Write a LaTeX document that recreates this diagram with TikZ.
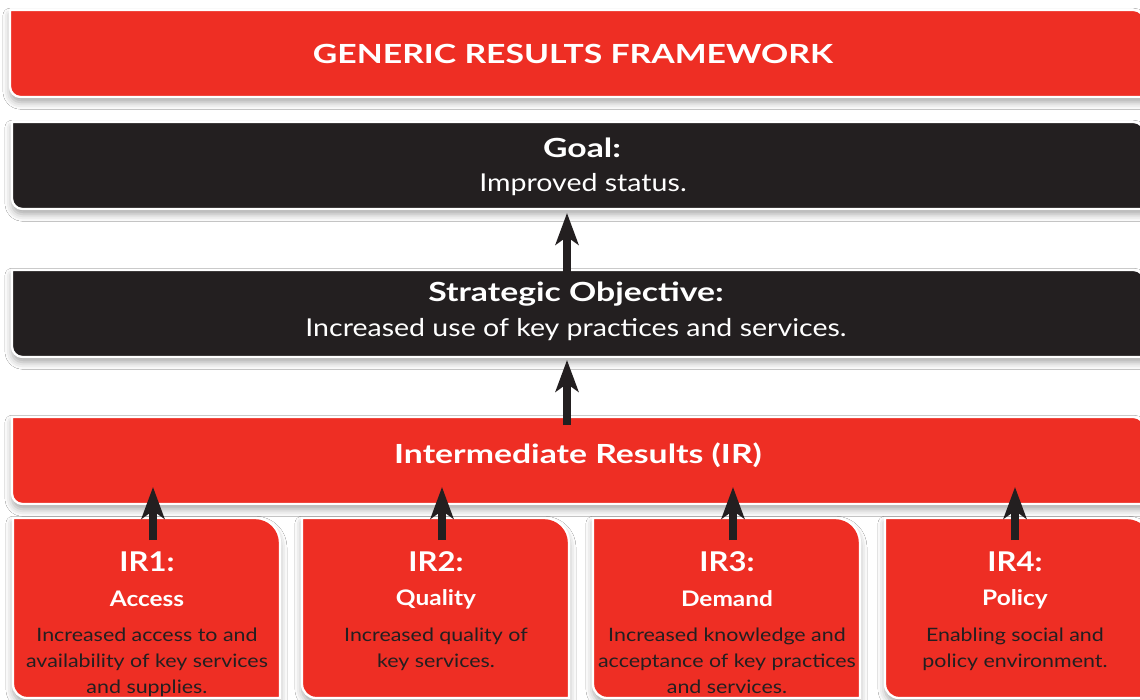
\documentclass[tikz,border=0pt]{standalone}
\usepackage{fontspec}
\setmainfont{Lato}[FakeStretch=1.16, BoldFeatures={FakeStretch=1.28}]
\newfontfamily\labelfont{Lato}[BoldFeatures={FakeStretch=1.14}]
\usetikzlibrary{arrows.meta,shadows.blur}

\definecolor{frred}{HTML}{EE2E24}
\definecolor{frblack}{HTML}{231F20}

\tikzset{
  panel/.style={draw=white, line width=1.3pt,
    blur shadow={shadow xshift=0pt, shadow yshift=-3pt, shadow blur radius=4pt, shadow opacity=35}},
  uparrow/.style={line width=4.2pt, frblack, -{Stealth[length=18pt, width=13pt, inset=4.5pt]}},
  heading/.style={text=white, font=\bfseries\fontsize{15}{18}\selectfont},
  subhead/.style={text=white, font=\fontsize{14}{17}\selectfont},
  irlabel/.style={text=white, align=center, font=\labelfont\bfseries\fontsize{15.5}{19}\selectfont},
  irname/.style={text=white, font=\labelfont\bfseries\fontsize{12.2}{14}\selectfont},
  irtext/.style={text=frblack, align=center, font=\fontsize{10.5}{14.7}\selectfont}
}

\begin{document}
\begin{tikzpicture}[x=0.02cm, y=-0.02cm]
        \useasboundingbox[fill=white] (0,0) rectangle (1140,700);

        % Title banner
        \path[panel, fill=frred] (10,10) [rounded corners=6pt] -- (1144,10) [sharp corners] -- (1144,97) [rounded corners=6pt] -- (10,97) [sharp corners] -- cycle;
        \node[heading] (title) at (573,54) {GENERIC RESULTS FRAMEWORK};

        % Goal and strategic objective
        \path[panel, fill=frblack] (12,122) [rounded corners=6pt] -- (1144,122) [sharp corners] -- (1144,209) [rounded corners=6pt] -- (12,209) [sharp corners] -- cycle;
        \node[heading] (goal) at (582,148) {Goal:};
        \node[subhead] (goaltext) at (583,185) {Improved status.};

        \path[panel, fill=frblack] (12,270) [rounded corners=6pt] -- (1144,270) [sharp corners] -- (1144,357) [rounded corners=6pt] -- (12,357) [sharp corners] -- cycle;
        \node[heading] (so) at (576,294) {Strategic Objective:};
        \node[subhead] (sotext) at (576,330) {Increased use of key practices and services.};

        % Intermediate results banner
        \path[panel, fill=frred] (12,417) [rounded corners=6pt] -- (1144,417) [sharp corners] -- (1144,504) [rounded corners=6pt] -- (12,504) [sharp corners] -- cycle;
        \node[heading] (ir) at (578,455) {Intermediate Results (IR)};

        % IR boxes
        \path[panel, fill=frred] (13,518) [rounded corners=14pt] -- (280,518) [sharp corners] -- (280,698) [rounded corners=8pt] -- (13,698) [sharp corners] -- cycle;
        \path[panel, fill=frred] (302,518) [rounded corners=14pt] -- (569,518) [sharp corners] -- (569,698) [rounded corners=8pt] -- (302,698) [sharp corners] -- cycle;
        \path[panel, fill=frred] (593,518) [rounded corners=14pt] -- (860,518) [sharp corners] -- (860,698) [rounded corners=8pt] -- (593,698) [sharp corners] -- cycle;
        \path[panel, fill=frred] (885,518) [rounded corners=14pt] -- (1152,518) [sharp corners] -- (1152,698) [rounded corners=8pt] -- (885,698) [sharp corners] -- cycle;

        \node[irlabel] (ir1) at (147,562) {IR1:};
        \node[irname] (ir1name) at (147,599) {Access};
        \node[irtext] (ir1text) at (147,662) {Increased access to and\\availability of key services\\and supplies.};

        \node[irlabel] (ir2) at (436,562) {IR2:};
        \node[irname] (ir2name) at (436,599) {Quality};
        \node[irtext] (ir2text) at (436,649) {Increased quality of\\key services.};

        \node[irlabel] (ir3) at (727,562) {IR3:};
        \node[irname] (ir3name) at (727,599) {Demand};
        \node[irtext] (ir3text) at (727,661) {Increased knowledge and\\acceptance of key practices\\and services.};

        \node[irlabel] (ir4) at (1015,562) {IR4:};
        \node[irname] (ir4name) at (1015,599) {Policy};
        \node[irtext] (ir4text) at (1015,649) {Enabling social and\\policy environment.};

        % Arrow ends
        \coordinate (goaltip) at (567,213);
        \coordinate (sotail) at (567,272);
        \coordinate (sotip) at (567,360);
        \coordinate (irtail) at (567,425);
        \foreach \i/\x in {1/153, 2/442, 3/733, 4/1015} {
          \coordinate (tail\i) at (\x,540);
          \coordinate (tip\i) at (\x,487);
        }

        % Arrows
        \draw[uparrow] (sotail) -- (goaltip);
        \draw[uparrow] (irtail) -- (sotip);
        \foreach \i in {1,...,4}
          \draw[uparrow] (tail\i) -- (tip\i);
\end{tikzpicture}
\end{document}
